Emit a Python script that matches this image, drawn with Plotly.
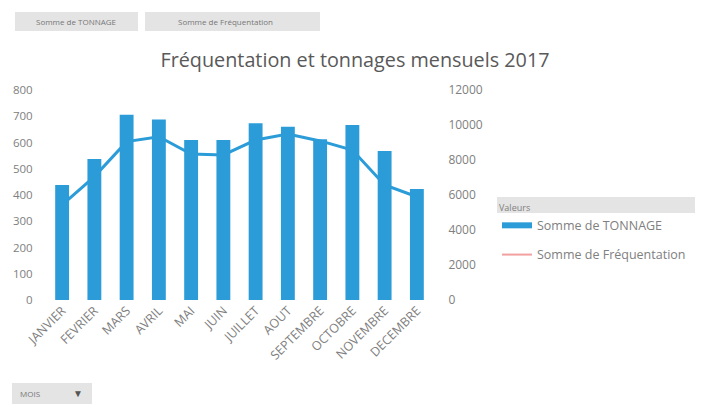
import plotly.graph_objects as go

mois = ["JANVIER", "FEVRIER", "MARS", "AVRIL", "MAI", "JUIN", "JUILLET",
        "AOUT", "SEPTEMBRE", "OCTOBRE", "NOVEMBRE", "DECEMBRE"]
tonnage = [438, 537, 706, 688, 610, 610, 673, 660, 612, 667, 568, 423]
frequentation = [5430, 7050, 9050, 9330, 8340, 8290, 9140, 9490, 9090, 8570, 6570, 5900]

BLUE = "#2B9CD8"
GREY = "#808080"

# the page shows the figure 8px in from the top-left corner
OFF = 8
W, H = 703, 405
PLOT_L, PLOT_R, PLOT_T, PLOT_B = 46 - OFF, 433 - OFF, 90 - OFF, 300 - OFF


def px_x(v):
    # screen pixel -> paper x
    return (v - OFF - PLOT_L) / (PLOT_R - PLOT_L)


def px_y(v):
    # screen pixel -> paper y
    return (PLOT_B - (v - OFF)) / (PLOT_B - PLOT_T)


fig = go.Figure()

fig.add_trace(
    go.Bar(
        x=mois,
        y=tonnage,
        name="Somme de TONNAGE",
        marker=dict(color=BLUE, line=dict(width=0)),
        width=0.43,
        showlegend=False,
        yaxis="y"
    )
)

fig.add_trace(
    go.Scatter(
        x=mois,
        y=frequentation,
        mode="lines",
        name="Somme de Fréquentation",
        line=dict(color=BLUE, width=3),
        showlegend=False,
        yaxis="y2"
    )
)

# legend-only entries, drawn like the Excel legend swatches
fig.add_trace(
    go.Scatter(
        x=[None],
        y=[None],
        mode="lines",
        name="Somme de TONNAGE",
        legendgroup="a",
        line=dict(color=BLUE, width=6),
        yaxis="y"
    )
)
fig.add_trace(
    go.Scatter(
        x=[None],
        y=[None],
        mode="lines",
        name="Somme de Fréquentation",
        legendgroup="b",
        line=dict(color="#F2A0A0", width=2),
        yaxis="y2"
    )
)

fig.update_layout(
    width=W,
    height=H,
    margin=dict(l=PLOT_L, r=W - PLOT_R, t=PLOT_T, b=H - PLOT_B),
    paper_bgcolor="white",
    plot_bgcolor="white",
    font=dict(family="Open Sans", color=GREY, size=11),
    title=dict(
        text="Fréquentation et tonnages mensuels 2017",
        x=(355 - OFF) / W,
        xref="container",
        y=1 - (60 - OFF) / H,
        yref="container",
        xanchor="center",
        yanchor="middle",
        font=dict(size=19.8, color="#595959", family="Open Sans")
    ),
    xaxis=dict(
        tickangle=-45,
        showgrid=False,
        showline=False,
        ticks="",
        automargin=False,
        tickfont=dict(size=12.5, color=GREY)
    ),
    yaxis=dict(
        range=[0, 800],
        dtick=100,
        showgrid=False,
        zeroline=False,
        ticks="outside",
        ticklen=10,
        tickcolor="rgba(0,0,0,0)",
        automargin=False,
        tickfont=dict(size=11.5, color=GREY)
    ),
    yaxis2=dict(
        range=[0, 12000],
        dtick=2000,
        tickformat="d",
        overlaying="y",
        side="right",
        showgrid=False,
        zeroline=False,
        ticks="outside",
        ticklen=12,
        tickcolor="rgba(0,0,0,0)",
        automargin=False,
        tickfont=dict(size=12, color=GREY)
    ),
    legend=dict(
        x=px_x(497),
        y=px_y(199),
        xanchor="left",
        yanchor="top",
        title=dict(text="Valeurs", font=dict(size=9, color=GREY)),
        font=dict(size=12.5, color=GREY),
        bgcolor="rgba(0,0,0,0)",
        itemwidth=30,
        tracegroupgap=10
    ),
    showlegend=True
)

# field buttons of the pivot chart
fig.add_shape(type="rect", xref="paper", yref="paper",
              x0=px_x(15), x1=px_x(138), y0=px_y(12), y1=px_y(31),
              fillcolor="#E4E4E4", line=dict(width=0), layer="below")
fig.add_shape(type="rect", xref="paper", yref="paper",
              x0=px_x(145), x1=px_x(320), y0=px_y(12), y1=px_y(31),
              fillcolor="#E4E4E4", line=dict(width=0), layer="below")
fig.add_annotation(text="Somme de TONNAGE", xref="paper", yref="paper",
                   x=px_x(76), y=px_y(21), xanchor="center", yanchor="middle",
                   showarrow=False, font=dict(size=8, color="#777777"))
fig.add_annotation(text="Somme de Fréquentation", xref="paper", yref="paper",
                   x=px_x(225), y=px_y(21), xanchor="center", yanchor="middle",
                   showarrow=False, font=dict(size=8, color="#777777"))

# legend title box
fig.add_shape(type="rect", xref="paper", yref="paper",
              x0=px_x(497), x1=px_x(698), y0=px_y(197), y1=px_y(213),
              fillcolor="#E4E4E4", line=dict(width=0), layer="below")

# axis field button
fig.add_shape(type="rect", xref="paper", yref="paper",
              x0=px_x(12), x1=px_x(92), y0=px_y(383), y1=px_y(404),
              fillcolor="#E4E4E4", line=dict(width=0), layer="below")
fig.add_annotation(text="MOIS", xref="paper", yref="paper",
                   x=px_x(18), y=px_y(393), xanchor="left", yanchor="middle",
                   showarrow=False, font=dict(size=8, color="#777777"))
fig.add_annotation(text="▼", xref="paper", yref="paper",
                   x=px_x(78), y=px_y(393), xanchor="center", yanchor="middle",
                   showarrow=False, font=dict(size=10, color="#555555"))

fig.write_html("out.html")
